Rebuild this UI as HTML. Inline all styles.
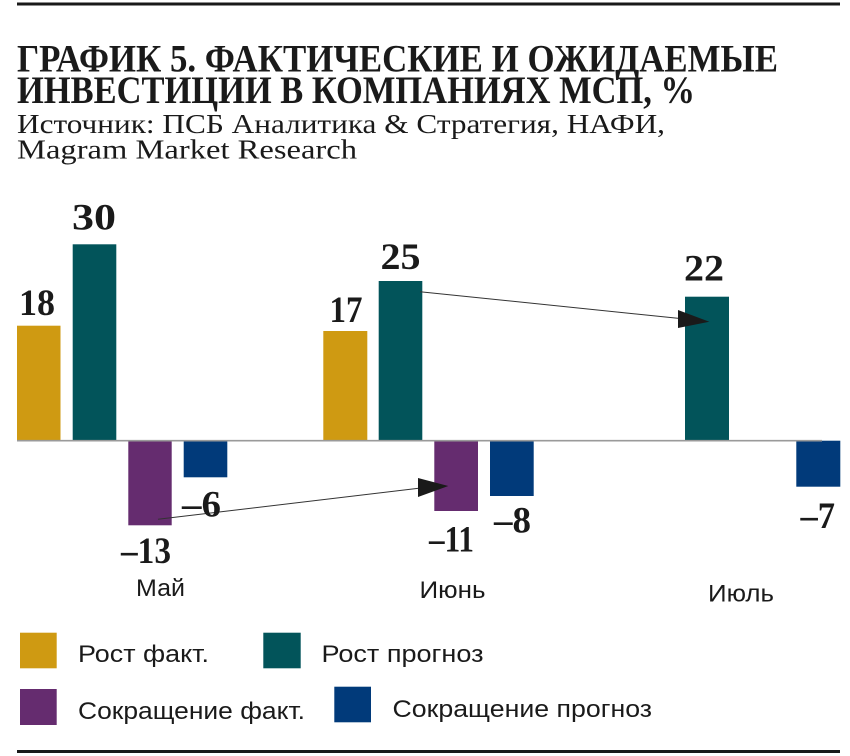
<!DOCTYPE html>
<html><head><meta charset="utf-8"><style>
html,body{margin:0;padding:0;background:#fff;}
svg{display:block;}
.t{font-family:"Liberation Serif","Noto Serif CJK SC",serif;font-weight:bold;fill:#1a1a1a;}
.s{font-family:"Liberation Serif","Noto Serif CJK SC",serif;fill:#1a1a1a;}
.v{font-family:"Liberation Serif",serif;font-weight:bold;fill:#1a1a1a;font-size:37px;}
.m{font-family:"Liberation Sans","Noto Sans CJK SC",sans-serif;fill:#1a1a1a;font-size:24px;}
</style></head><body>
<svg width="850" height="756" viewBox="0 0 850 756" xmlns="http://www.w3.org/2000/svg">
<rect x="17" y="2.5" width="823" height="3" fill="#1a1a1a"/>
<g transform="scale(1,1.1)">
<text class="t" x="17" y="65" font-size="36" textLength="761" lengthAdjust="spacingAndGlyphs">ГРАФИК 5. ФАКТИЧЕСКИЕ И ОЖИДАЕМЫЕ</text>
<text class="t" x="17" y="93.6" font-size="36" textLength="678" lengthAdjust="spacingAndGlyphs">ИНВЕСТИЦИИ В КОМПАНИЯХ МСП, %</text>
</g>
<text class="s" x="17" y="133" font-size="27" textLength="648" lengthAdjust="spacingAndGlyphs">Источник: ПСБ Аналитика &amp; Стратегия, НАФИ,</text>
<text class="s" x="17" y="158.5" font-size="27" textLength="340" lengthAdjust="spacingAndGlyphs">Magram Market Research</text>

<!-- May -->
<rect x="17" y="325.7" width="43.5" height="115" fill="#CF9A12"/>
<rect x="72.7" y="244.3" width="43.6" height="196.4" fill="#02545A"/>
<rect x="128.3" y="440.7" width="43.4" height="84.6" fill="#652C6F"/>
<rect x="183.7" y="440.7" width="43.6" height="36.6" fill="#013A7A"/>
<!-- June -->
<rect x="323.3" y="331" width="44" height="109.7" fill="#CF9A12"/>
<rect x="378.7" y="281" width="43.6" height="159.7" fill="#02545A"/>
<rect x="434.3" y="440.7" width="43.7" height="70.3" fill="#652C6F"/>
<rect x="490" y="440.7" width="43.7" height="55.3" fill="#013A7A"/>
<!-- July -->
<rect x="685" y="296.7" width="44" height="144" fill="#02545A"/>
<rect x="796.3" y="440.7" width="44" height="46" fill="#013A7A"/>

<line x1="17" y1="440.7" x2="822" y2="440.7" stroke="#9a9a9a" stroke-width="1.6"/>

<!-- arrows -->
<line x1="158" y1="519.3" x2="425" y2="487.5" stroke="#333" stroke-width="1"/>
<polygon points="448.3,486 418,478 418,497" fill="#1a1a1a"/>
<line x1="420" y1="291.7" x2="685" y2="319" stroke="#333" stroke-width="1"/>
<polygon points="709.3,321.7 678,310 678,328" fill="#1a1a1a"/>

<!-- value labels -->
<text class="v" x="19" y="315" textLength="36" lengthAdjust="spacingAndGlyphs">18</text>
<text class="v" x="72" y="229.5" textLength="44" lengthAdjust="spacingAndGlyphs">30</text>
<text class="v" x="121" y="563" textLength="50" lengthAdjust="spacingAndGlyphs">–13</text>
<text class="v" x="182" y="516.7" textLength="39" lengthAdjust="spacingAndGlyphs">–6</text>
<text class="v" x="329.5" y="322" textLength="33" lengthAdjust="spacingAndGlyphs">17</text>
<text class="v" x="380.5" y="269" textLength="40" lengthAdjust="spacingAndGlyphs">25</text>
<text class="v" x="429" y="551.5" textLength="45" lengthAdjust="spacingAndGlyphs">–11</text>
<text class="v" x="494" y="532.5" textLength="37" lengthAdjust="spacingAndGlyphs">–8</text>
<text class="v" x="684" y="280.5" textLength="40" lengthAdjust="spacingAndGlyphs">22</text>
<text class="v" x="800.5" y="528" textLength="34.5" lengthAdjust="spacingAndGlyphs">–7</text>

<!-- month labels -->
<text class="m" x="136" y="596" textLength="49" lengthAdjust="spacingAndGlyphs">Май</text>
<text class="m" x="419.5" y="598" textLength="66" lengthAdjust="spacingAndGlyphs">Июнь</text>
<text class="m" x="708" y="601.5" textLength="66" lengthAdjust="spacingAndGlyphs">Июль</text>

<!-- legend -->
<rect x="20" y="632.7" width="36.7" height="35.6" fill="#CF9A12"/>
<rect x="263.3" y="632.7" width="37.4" height="35.6" fill="#02545A"/>
<rect x="20" y="689" width="36.7" height="36" fill="#652C6F"/>
<rect x="334.3" y="686.7" width="36.7" height="35.6" fill="#013A7A"/>
<text class="m" x="78" y="662" textLength="131" lengthAdjust="spacingAndGlyphs">Рост факт.</text>
<text class="m" x="321.5" y="662" textLength="162" lengthAdjust="spacingAndGlyphs">Рост прогноз</text>
<text class="m" x="78" y="719" textLength="227" lengthAdjust="spacingAndGlyphs">Сокращение факт.</text>
<text class="m" x="392.5" y="717" textLength="259.5" lengthAdjust="spacingAndGlyphs">Сокращение прогноз</text>

<rect x="17" y="750" width="823" height="3" fill="#1a1a1a"/>
</svg>
</body></html>
